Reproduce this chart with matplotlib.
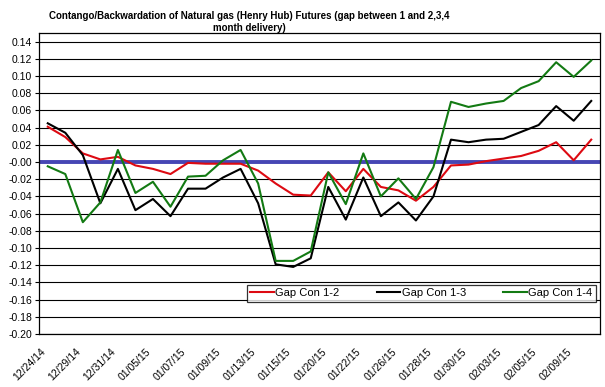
import numpy as np
import matplotlib
matplotlib.use("Agg")
import matplotlib.pyplot as plt

plt.rcParams['font.family'] = ['Liberation Sans', 'DejaVu Sans']

# trading days shown on the category axis
dates = ['12/24/14', '12/26/14', '12/29/14', '12/30/14', '12/31/14', '01/02/15',
         '01/05/15', '01/06/15', '01/07/15', '01/08/15', '01/09/15', '01/12/15',
         '01/13/15', '01/14/15', '01/15/15', '01/16/15', '01/20/15', '01/21/15',
         '01/22/15', '01/23/15', '01/26/15', '01/27/15', '01/28/15', '01/29/15',
         '01/30/15', '02/02/15', '02/03/15', '02/04/15', '02/05/15', '02/06/15',
         '02/09/15', '02/10/15']

gap_12 = [0.041, 0.029, 0.010, 0.003, 0.006, -0.004, -0.008, -0.014, -0.001, -0.002,
          -0.002, -0.002, -0.010, -0.025, -0.038, -0.039, -0.012, -0.034, -0.008, -0.029,
          -0.033, -0.045, -0.029, -0.004, -0.003, 0.001, 0.004, 0.007, 0.013, 0.023,
          0.002, 0.026]
gap_13 = [0.045, 0.034, 0.008, -0.048, -0.008, -0.056, -0.043, -0.063, -0.031, -0.031,
          -0.018, -0.008, -0.048, -0.119, -0.122, -0.112, -0.029, -0.067, -0.018, -0.063,
          -0.047, -0.068, -0.040, 0.026, 0.023, 0.026, 0.027, 0.035, 0.043, 0.065,
          0.048, 0.071]
gap_14 = [-0.005, -0.014, -0.070, -0.047, 0.014, -0.036, -0.023, -0.052, -0.017, -0.016,
          0.002, 0.014, -0.025, -0.115, -0.115, -0.104, -0.012, -0.049, 0.010, -0.040,
          -0.019, -0.043, -0.006, 0.070, 0.064, 0.068, 0.071, 0.086, 0.094, 0.116,
          0.099, 0.118]

fig = plt.figure(figsize=(6.05, 3.87), dpi=100)
ax = fig.add_axes([39/605, 53/387, 561/605, 301/387])

X = np.arange(len(dates))

ax.set_ylim(-0.20, 0.15)
ax.set_xlim(-0.5, len(dates) - 0.5)
yt = np.arange(-0.20, 0.141, 0.02)
ax.set_yticks(yt)
ax.set_yticklabels(['%.2f' % v for v in yt], fontsize=7.5)
for v in yt:
    ax.axhline(v, color='black', lw=0.8, zorder=1)

ax.axhline(0, color='#4646b4', lw=2.8, zorder=2)

ax.plot(X, gap_12, color='#dd0a12', lw=1.5, label='Gap Con 1-2', zorder=3)
ax.plot(X, gap_13, color='black', lw=1.5, label='Gap Con 1-3', zorder=3)
ax.plot(X, gap_14, color='#137a13', lw=1.5, label='Gap Con 1-4', zorder=3)

ax.set_xticks(X[::2])
ax.set_xticklabels(dates[::2], rotation=45, ha='right', va='top', fontsize=7.5)
ax.tick_params(axis='x', length=0, pad=9)
ax.tick_params(axis='y', length=3, width=0.8, pad=2)

for s in ax.spines.values():
    s.set_linewidth(0.9)
    s.set_color('black')

leg = ax.legend(ncol=3, loc='upper left', bbox_to_anchor=(208/561, 1 - (285-33)/301),
                fontsize=8, frameon=True, fancybox=False, edgecolor='black',
                handlelength=2.1, handletextpad=0.15, columnspacing=3.35,
                borderpad=0.3, borderaxespad=0)
leg.get_frame().set_linewidth(0.9)

fig.text(249/605, 1 - 11/387,
         'Contango/Backwardation of Natural gas (Henry Hub) Futures (gap between 1 and 2,3,4\nmonth delivery)',
         ha='center', va='top', fontsize=7, fontweight='bold', linespacing=1.3)

fig.savefig('out.png', dpi=100)
